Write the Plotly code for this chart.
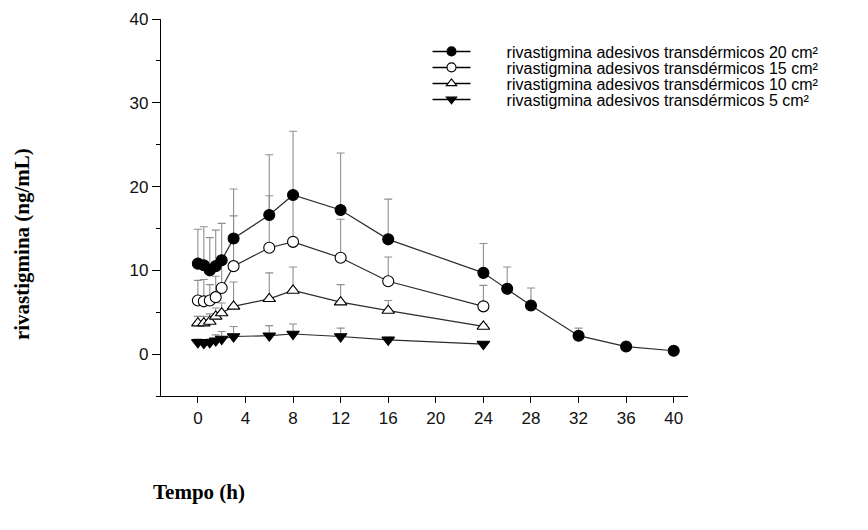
import plotly.graph_objects as go

# Time points (h)
time_20 = [0, 0.5, 1, 1.5, 2, 3, 6, 8, 12, 16, 24, 26, 28, 32, 36, 40]
time_short = [0, 0.5, 1, 1.5, 2, 3, 6, 8, 12, 16, 24]

# Mean concentrations (ng/mL)
mean_20 = [10.8, 10.6, 10.0, 10.5, 11.2, 13.8, 16.6, 19.0, 17.2, 13.7, 9.7, 7.8, 5.8, 2.2, 0.9, 0.4]
mean_15 = [6.4, 6.3, 6.4, 6.8, 7.9, 10.5, 12.7, 13.4, 11.5, 8.7, 5.7]
mean_10 = [3.7, 3.7, 3.9, 4.5, 4.9, 5.7, 6.6, 7.6, 6.2, 5.2, 3.3]
mean_5 = [1.4, 1.3, 1.4, 1.6, 1.8, 2.1, 2.2, 2.4, 2.1, 1.7, 1.2]

# Standard deviations (upper bars only)
sd_20 = [4.1, 4.6, 3.9, 4.3, 4.4, 5.9, 7.2, 7.6, 6.8, 4.8, 3.5, 2.6, 2.1, 0.9, 0.0, 0.0]
sd_15 = [2.4, 2.6, 1.9, 2.5, 3.8, 6.0, 6.2, 6.0, 4.6, 2.9, 2.5]
sd_10 = [0.8, 0.8, 0.9, 1.0, 1.2, 2.9, 3.1, 2.8, 2.1, 1.2, 0.3]
sd_5 = [0.4, 0.4, 0.4, 0.7, 0.9, 1.2, 1.2, 1.2, 1.0, 0.3, 0.1]

labels = [
    "rivastigmina adesivos transdérmicos 20 cm²",
    "rivastigmina adesivos transdérmicos 15 cm²",
    "rivastigmina adesivos transdérmicos 10 cm²",
    "rivastigmina adesivos transdérmicos 5 cm²",
]

x_ticks = [0, 4, 8, 12, 16, 20, 24, 28, 32, 36, 40]
y_ticks = [0, 10, 20, 30, 40]

LINE = "#2b2b2b"
ERR = "#8f8f8f"
PAD = "\u00a0" * 7

series = [
    # (x, y, sd, symbol, fill, label, legend id)
    (time_short, mean_5, sd_5, "triangle-down", "black", labels[3], "legend4"),
    (time_short, mean_10, sd_10, "triangle-up", "white", labels[2], "legend3"),
    (time_short, mean_15, sd_15, "circle", "white", labels[1], "legend2"),
    (time_20, mean_20, sd_20, "circle", "black", labels[0], "legend"),
]

fig = go.Figure()
for xs, ys, sd, sym, fill, lab, leg in series:
    fig.add_trace(go.Scatter(
        x=xs, y=ys, mode="lines+markers", name=lab, showlegend=False,
        line=dict(color=LINE, width=1.2),
        marker=dict(symbol=sym, size=11, color=fill, line=dict(color="black", width=1.1)),
        error_y=dict(type="data", array=sd, arrayminus=[0] * len(sd), symmetric=False,
                     color=ERR, thickness=1.1, width=4),
    ))
    # legend-only entry with the smaller key markers of the reference
    fig.add_trace(go.Scatter(
        x=[None], y=[None], mode="lines+markers", name=PAD + lab, legend=leg,
        line=dict(color="black", width=1.5),
        marker=dict(symbol=sym, size=9, color=fill, line=dict(color="black", width=1.1)),
    ))

# plot area in page pixels (page has an 8 px body margin)
plot_left, plot_w = 153, 527
plot_top, plot_h = 11, 377

leg_common = dict(x=0.5057, xanchor="left", yanchor="middle", bgcolor="rgba(0,0,0,0)",
                  font=dict(family="Liberation Sans, Arial", size=16, color="black"),
                  itemwidth=38, borderwidth=0)
row_px = [51.5, 67.5, 83.5, 99.5]   # rows as seen in the window
legs = {}
for name, py in zip(["legend", "legend2", "legend3", "legend4"], row_px):
    legs[name] = dict(leg_common, y=(plot_top + 8 + plot_h - py) / plot_h)

fig.update_layout(
    width=860, height=522,
    margin=dict(l=plot_left, r=860 - plot_left - plot_w, t=plot_top, b=522 - plot_top - plot_h,
                autoexpand=False),
    plot_bgcolor="white", paper_bgcolor="white",
    showlegend=True,
    **legs,
    xaxis=dict(range=[-3.1, 41.2], tickvals=x_ticks, ticktext=[str(v) for v in x_ticks],
               showgrid=False, zeroline=False, showline=True, linecolor="black", linewidth=1.3,
               ticks="outside", ticklen=6, tickcolor="black", tickwidth=1.2,
               tickfont=dict(family="Liberation Sans, Arial", size=17, color="#111")),
    yaxis=dict(range=[-5, 40], tickvals=y_ticks, ticktext=[str(v) for v in y_ticks],
               showgrid=False, zeroline=False, showline=True, linecolor="black", linewidth=1.3,
               ticks="outside", ticklen=8, tickcolor="black", tickwidth=1.2,
               minor=dict(tickvals=[-5, 5, 15, 25, 35], ticks="outside", ticklen=4,
                          tickcolor="black", tickwidth=1.2),
               tickfont=dict(family="Liberation Sans, Arial", size=17, color="#111")),
    annotations=[
        dict(text="<b>rivastigmina (ng/mL)</b>", xref="paper", yref="paper",
             x=-0.2638, y=0.403, xanchor="center", yanchor="middle",
             textangle=-90, showarrow=False,
             font=dict(family="Liberation Serif, Times New Roman", size=21, color="black")),
        dict(text="<b>Tempo (h)</b>", xref="paper", yref="paper",
             x=0.072, y=-0.2546, xanchor="center", yanchor="middle", showarrow=False,
             font=dict(family="Liberation Serif, Times New Roman", size=21, color="black")),
    ],
)

fig.write_html("out.html")
